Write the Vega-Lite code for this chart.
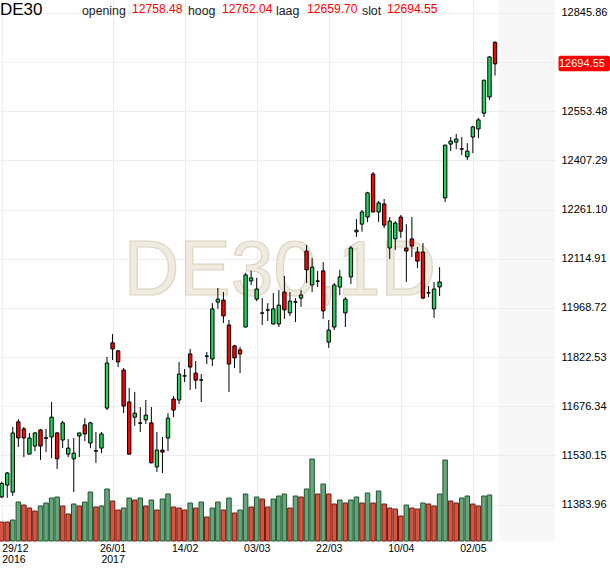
{
  "$schema": "https://vega.github.io/schema/vega-lite/v6.json",
  "width": 555,
  "height": 541,
  "autosize": {"type": "none"},
  "padding": {"left": 0, "top": 0, "right": 55, "bottom": 27},
  "background": "white",
  "config": {
    "view": {"stroke": null},
    "font": "Liberation Sans",
    "axis": {"gridColor": "#eeeeee", "gridWidth": 1, "ticks": false, "domain": false, "labelColor": "#000000", "labelFont": "Liberation Sans"}
  },
  "data": {
    "values": [
      {"d": "2016-12-29", "o": 11407, "h": 11452, "l": 11403, "c": 11447, "v": 19},
      {"d": "2016-12-30", "o": 11442, "h": 11481, "l": 11404, "c": 11478, "v": 19},
      {"d": "2017-01-02", "o": 11421, "h": 11615, "l": 11410, "c": 11597, "v": 21},
      {"d": "2017-01-03", "o": 11630, "h": 11638, "l": 11555, "c": 11582, "v": 39},
      {"d": "2017-01-04", "o": 11609, "h": 11615, "l": 11525, "c": 11582, "v": 36},
      {"d": "2017-01-05", "o": 11534, "h": 11597, "l": 11534, "c": 11582, "v": 33},
      {"d": "2017-01-06", "o": 11558, "h": 11600, "l": 11543, "c": 11597, "v": 30},
      {"d": "2017-01-09", "o": 11606, "h": 11609, "l": 11517, "c": 11558, "v": 35},
      {"d": "2017-01-10", "o": 11581, "h": 11609, "l": 11540, "c": 11583, "v": 38},
      {"d": "2017-01-11", "o": 11585, "h": 11689, "l": 11522, "c": 11644, "v": 43},
      {"d": "2017-01-12", "o": 11597, "h": 11600, "l": 11490, "c": 11520, "v": 44},
      {"d": "2017-01-13", "o": 11576, "h": 11633, "l": 11552, "c": 11627, "v": 35},
      {"d": "2017-01-16", "o": 11534, "h": 11579, "l": 11525, "c": 11552, "v": 27},
      {"d": "2017-01-17", "o": 11520, "h": 11582, "l": 11421, "c": 11537, "v": 37},
      {"d": "2017-01-18", "o": 11588, "h": 11597, "l": 11525, "c": 11597, "v": 35},
      {"d": "2017-01-19", "o": 11621, "h": 11641, "l": 11573, "c": 11594, "v": 39},
      {"d": "2017-01-20", "o": 11567, "h": 11630, "l": 11552, "c": 11627, "v": 49},
      {"d": "2017-01-23", "o": 11544, "h": 11600, "l": 11508, "c": 11543, "v": 34},
      {"d": "2017-01-24", "o": 11552, "h": 11600, "l": 11537, "c": 11594, "v": 35},
      {"d": "2017-01-25", "o": 11671, "h": 11823, "l": 11665, "c": 11805, "v": 52},
      {"d": "2017-01-26", "o": 11865, "h": 11891, "l": 11814, "c": 11847, "v": 40},
      {"d": "2017-01-27", "o": 11841, "h": 11844, "l": 11793, "c": 11808, "v": 31},
      {"d": "2017-01-30", "o": 11784, "h": 11790, "l": 11656, "c": 11677, "v": 33},
      {"d": "2017-01-31", "o": 11689, "h": 11731, "l": 11533, "c": 11534, "v": 43},
      {"d": "2017-02-01", "o": 11644, "h": 11719, "l": 11618, "c": 11656, "v": 41},
      {"d": "2017-02-02", "o": 11627, "h": 11674, "l": 11600, "c": 11626, "v": 43},
      {"d": "2017-02-03", "o": 11636, "h": 11695, "l": 11624, "c": 11650, "v": 35},
      {"d": "2017-02-06", "o": 11627, "h": 11674, "l": 11507, "c": 11508, "v": 41},
      {"d": "2017-02-07", "o": 11496, "h": 11600, "l": 11481, "c": 11546, "v": 31},
      {"d": "2017-02-08", "o": 11546, "h": 11585, "l": 11478, "c": 11540, "v": 42},
      {"d": "2017-02-09", "o": 11582, "h": 11656, "l": 11543, "c": 11641, "v": 47},
      {"d": "2017-02-10", "o": 11698, "h": 11707, "l": 11644, "c": 11665, "v": 34},
      {"d": "2017-02-13", "o": 11695, "h": 11808, "l": 11683, "c": 11772, "v": 33},
      {"d": "2017-02-14", "o": 11767, "h": 11787, "l": 11748, "c": 11766, "v": 31},
      {"d": "2017-02-15", "o": 11832, "h": 11847, "l": 11725, "c": 11793, "v": 38},
      {"d": "2017-02-16", "o": 11775, "h": 11811, "l": 11728, "c": 11754, "v": 33},
      {"d": "2017-02-17", "o": 11754, "h": 11772, "l": 11689, "c": 11755, "v": 39},
      {"d": "2017-02-20", "o": 11825, "h": 11838, "l": 11802, "c": 11826, "v": 24},
      {"d": "2017-02-21", "o": 11817, "h": 11983, "l": 11796, "c": 11966, "v": 33},
      {"d": "2017-02-22", "o": 11986, "h": 12028, "l": 11966, "c": 11995, "v": 39},
      {"d": "2017-02-23", "o": 11992, "h": 12016, "l": 11924, "c": 11945, "v": 31},
      {"d": "2017-02-24", "o": 11918, "h": 11933, "l": 11719, "c": 11802, "v": 43},
      {"d": "2017-02-27", "o": 11856, "h": 11859, "l": 11790, "c": 11820, "v": 28},
      {"d": "2017-02-28", "o": 11844, "h": 11853, "l": 11775, "c": 11832, "v": 31},
      {"d": "2017-03-01", "o": 11912, "h": 12073, "l": 11911, "c": 12067, "v": 47},
      {"d": "2017-03-02", "o": 12049, "h": 12079, "l": 12037, "c": 12058, "v": 34},
      {"d": "2017-03-03", "o": 11995, "h": 12058, "l": 11989, "c": 12025, "v": 44},
      {"d": "2017-03-06", "o": 11954, "h": 11998, "l": 11918, "c": 11953, "v": 42},
      {"d": "2017-03-07", "o": 11962, "h": 11983, "l": 11930, "c": 11963, "v": 34},
      {"d": "2017-03-08", "o": 11921, "h": 12013, "l": 11920, "c": 11966, "v": 42},
      {"d": "2017-03-09", "o": 11921, "h": 12022, "l": 11912, "c": 11977, "v": 45},
      {"d": "2017-03-10", "o": 12016, "h": 12064, "l": 11936, "c": 11963, "v": 47},
      {"d": "2017-03-13", "o": 11954, "h": 12016, "l": 11945, "c": 11989, "v": 33},
      {"d": "2017-03-14", "o": 11986, "h": 11998, "l": 11927, "c": 11987, "v": 45},
      {"d": "2017-03-15", "o": 11998, "h": 12022, "l": 11972, "c": 12007, "v": 44},
      {"d": "2017-03-16", "o": 12138, "h": 12156, "l": 12043, "c": 12082, "v": 52},
      {"d": "2017-03-17", "o": 12037, "h": 12117, "l": 12016, "c": 12090, "v": 82},
      {"d": "2017-03-20", "o": 12049, "h": 12079, "l": 12031, "c": 12048, "v": 47},
      {"d": "2017-03-21", "o": 12079, "h": 12105, "l": 11936, "c": 11960, "v": 57},
      {"d": "2017-03-22", "o": 11867, "h": 11933, "l": 11850, "c": 11903, "v": 47},
      {"d": "2017-03-23", "o": 11912, "h": 12043, "l": 11903, "c": 12037, "v": 37},
      {"d": "2017-03-24", "o": 12031, "h": 12082, "l": 12007, "c": 12061, "v": 41},
      {"d": "2017-03-27", "o": 11954, "h": 12001, "l": 11912, "c": 11995, "v": 38},
      {"d": "2017-03-28", "o": 12061, "h": 12153, "l": 12040, "c": 12147, "v": 41},
      {"d": "2017-03-29", "o": 12195, "h": 12233, "l": 12180, "c": 12200, "v": 44},
      {"d": "2017-03-30", "o": 12218, "h": 12260, "l": 12195, "c": 12254, "v": 38},
      {"d": "2017-03-31", "o": 12239, "h": 12314, "l": 12224, "c": 12311, "v": 48},
      {"d": "2017-04-03", "o": 12367, "h": 12373, "l": 12253, "c": 12254, "v": 38},
      {"d": "2017-04-04", "o": 12254, "h": 12287, "l": 12224, "c": 12281, "v": 50},
      {"d": "2017-04-05", "o": 12278, "h": 12293, "l": 12206, "c": 12215, "v": 37},
      {"d": "2017-04-06", "o": 12147, "h": 12239, "l": 12114, "c": 12227, "v": 33},
      {"d": "2017-04-07", "o": 12174, "h": 12227, "l": 12141, "c": 12221, "v": 32},
      {"d": "2017-04-10", "o": 12239, "h": 12245, "l": 12177, "c": 12197, "v": 25},
      {"d": "2017-04-11", "o": 12147, "h": 12218, "l": 12046, "c": 12138, "v": 36},
      {"d": "2017-04-12", "o": 12174, "h": 12239, "l": 12120, "c": 12153, "v": 33},
      {"d": "2017-04-13", "o": 12135, "h": 12150, "l": 12087, "c": 12108, "v": 32},
      {"d": "2017-04-18", "o": 12135, "h": 12162, "l": 11995, "c": 11998, "v": 38},
      {"d": "2017-04-19", "o": 12013, "h": 12034, "l": 12001, "c": 12014, "v": 37},
      {"d": "2017-04-20", "o": 11966, "h": 12046, "l": 11939, "c": 12025, "v": 35},
      {"d": "2017-04-21", "o": 12031, "h": 12090, "l": 12004, "c": 12046, "v": 47},
      {"d": "2017-04-24", "o": 12296, "h": 12454, "l": 12284, "c": 12453, "v": 81},
      {"d": "2017-04-25", "o": 12456, "h": 12477, "l": 12435, "c": 12465, "v": 40},
      {"d": "2017-04-26", "o": 12462, "h": 12486, "l": 12441, "c": 12471, "v": 38},
      {"d": "2017-04-27", "o": 12442, "h": 12477, "l": 12423, "c": 12441, "v": 43},
      {"d": "2017-04-28", "o": 12418, "h": 12459, "l": 12409, "c": 12435, "v": 45},
      {"d": "2017-05-02", "o": 12477, "h": 12510, "l": 12429, "c": 12507, "v": 37},
      {"d": "2017-05-03", "o": 12501, "h": 12534, "l": 12474, "c": 12528, "v": 35},
      {"d": "2017-05-04", "o": 12548, "h": 12647, "l": 12536, "c": 12646, "v": 45},
      {"d": "2017-05-05", "o": 12596, "h": 12718, "l": 12587, "c": 12715, "v": 46},
      {"d": "2017-05-08", "o": 12758.48, "h": 12762.04, "l": 12659.70, "c": 12694.55, "v": null}
    ]
  },
  "transform": [
    {"window": [{"op": "row_number", "as": "n"}, {"op": "lag", "field": "v", "as": "pv"}], "sort": [{"field": "d"}]}
  ],
  "layer": [
    {
      "layer": [
        {
          "transform": [{"filter": "datum.n == 90"}],
          "mark": {"type": "rect", "fill": "#e4e4e4", "opacity": 0.3},
          "encoding": {
            "x": {
              "datum": 90.77, "type": "quantitative",
              "scale": {"domain": [0.693, 100.82], "nice": false, "zero": false, "padding": 0},
              "axis": {
                "values": [1, 21, 34, 47, 60, 73, 86],
                "labelExpr": "datum.value == 1 ? ['29/12', '2016'] : datum.value == 21 ? ['26/01', '2017'] : datum.value == 34 ? '14/02' : datum.value == 47 ? '03/03' : datum.value == 60 ? '22/03' : datum.value == 73 ? '10/04' : '02/05'",
                "grid": true, "labelFontSize": 10.5, "labelPadding": 2, "labelFlush": 10, "labelOverlap": false, "labelLineHeight": 11, "title": null
              }
            },
            "x2": {"datum": 100.82},
            "y": {
              "datum": 12884.45, "type": "quantitative",
              "scale": {"domain": [11275.7, 12884.45], "nice": false, "zero": false, "padding": 0},
              "axis": {
                "orient": "right",
                "values": [11383.96, 11530.15, 11676.34, 11822.53, 11968.72, 12114.91, 12261.10, 12407.29, 12553.48, 12699.67, 12845.86],
                "labelExpr": "abs(datum.value - 12699.67) < 0.01 ? '' : format(datum.value, '.2f')",
                "grid": true, "labelFontSize": 11, "labelPadding": 6, "labelOverlap": false, "title": null
              }
            },
            "y2": {"datum": 11275.7}
          }
        },
        {
          "transform": [{"filter": "datum.n == 90"}],
          "mark": {"type": "text", "text": "DE30,1D", "font": "Liberation Sans", "fontSize": 77, "align": "center", "baseline": "alphabetic", "fill": "#efebdf", "stroke": "#dcd5c2", "strokeWidth": 1.2},
          "encoding": {
            "x": {"datum": 51.2, "type": "quantitative", "scale": {"domain": [0.693, 100.82], "nice": false, "zero": false, "padding": 0}},
            "y": {"datum": 12007.2, "type": "quantitative", "scale": {"domain": [11275.7, 12884.45], "nice": false, "zero": false, "padding": 0}}
          }
        }
      ]
    },
    {
      "transform": [{"filter": "datum.v != null"}],
      "mark": {"type": "bar", "width": 4.5, "strokeWidth": 1},
      "encoding": {
        "x": {"field": "n", "type": "quantitative", "scale": {"domain": [0.693, 100.82], "nice": false, "zero": false, "padding": 0}},
        "y": {"field": "v", "type": "quantitative", "scale": {"domain": [0, 541], "nice": false, "padding": 0}, "axis": null},
        "fill": {"condition": {"test": "datum.pv != null && datum.v > datum.pv", "value": "#67a57b"}, "value": "#d8543f"},
        "stroke": {"condition": {"test": "datum.pv != null && datum.v > datum.pv", "value": "#1f5530"}, "value": "#6b1d14"}
      }
    },
    {
      "layer": [
        {
          "mark": {"type": "rule", "color": "#000000", "strokeWidth": 1},
          "encoding": {
            "x": {"field": "n", "type": "quantitative", "scale": {"domain": [0.693, 100.82], "nice": false, "zero": false, "padding": 0}},
            "y": {"field": "h", "type": "quantitative", "scale": {"domain": [11275.7, 12884.45], "nice": false, "zero": false, "padding": 0}, "axis": null},
            "y2": {"field": "l"}
          }
        },
        {
          "mark": {"type": "bar", "width": 3.4, "stroke": "#000000", "strokeWidth": 1},
          "encoding": {
            "x": {"field": "n", "type": "quantitative", "scale": {"domain": [0.693, 100.82], "nice": false, "zero": false, "padding": 0}},
            "y": {"field": "o", "type": "quantitative", "scale": {"domain": [11275.7, 12884.45], "nice": false, "zero": false, "padding": 0}, "axis": null},
            "y2": {"field": "c"},
            "fill": {"condition": {"test": "datum.c >= datum.o", "value": "#22d35a"}, "value": "#ff0000"}
          }
        },
        {
          "transform": [{"filter": "datum.n == 90"}],
          "mark": {"type": "text", "text": "DE30", "fontSize": 17, "align": "left", "baseline": "alphabetic", "color": "#000000"},
          "encoding": {
            "x": {"datum": 0.693, "type": "quantitative", "scale": {"domain": [0.693, 100.82], "nice": false, "zero": false, "padding": 0}},
            "y": {"datum": 12839.8, "type": "quantitative", "scale": {"domain": [11275.7, 12884.45], "nice": false, "zero": false, "padding": 0}, "axis": null}
          }
        },
        {
          "transform": [{"filter": "datum.n == 90"}],
          "mark": {"type": "text", "text": "opening", "fontSize": 12.3, "align": "left", "baseline": "alphabetic", "color": "#222222"},
          "encoding": {
            "x": {"datum": 15.49, "type": "quantitative", "scale": {"domain": [0.693, 100.82], "nice": false, "zero": false, "padding": 0}},
            "y": {"datum": 12841.3, "type": "quantitative", "scale": {"domain": [11275.7, 12884.45], "nice": false, "zero": false, "padding": 0}, "axis": null}
          }
        },
        {
          "transform": [{"filter": "datum.n == 90"}],
          "mark": {"type": "text", "fontSize": 12.1, "align": "left", "baseline": "alphabetic", "color": "#ff0000"},
          "encoding": {
            "text": {"field": "o", "format": ".2f"},
            "x": {"datum": 24.51, "type": "quantitative", "scale": {"domain": [0.693, 100.82], "nice": false, "zero": false, "padding": 0}},
            "y": {"datum": 12845.8, "type": "quantitative", "scale": {"domain": [11275.7, 12884.45], "nice": false, "zero": false, "padding": 0}, "axis": null}
          }
        },
        {
          "transform": [{"filter": "datum.n == 90"}],
          "mark": {"type": "text", "text": "hoog", "fontSize": 12.3, "align": "left", "baseline": "alphabetic", "color": "#222222"},
          "encoding": {
            "x": {"datum": 34.61, "type": "quantitative", "scale": {"domain": [0.693, 100.82], "nice": false, "zero": false, "padding": 0}},
            "y": {"datum": 12841.3, "type": "quantitative", "scale": {"domain": [11275.7, 12884.45], "nice": false, "zero": false, "padding": 0}, "axis": null}
          }
        },
        {
          "transform": [{"filter": "datum.n == 90"}],
          "mark": {"type": "text", "fontSize": 12.1, "align": "left", "baseline": "alphabetic", "color": "#ff0000"},
          "encoding": {
            "text": {"field": "h", "format": ".2f"},
            "x": {"datum": 40.74, "type": "quantitative", "scale": {"domain": [0.693, 100.82], "nice": false, "zero": false, "padding": 0}},
            "y": {"datum": 12845.8, "type": "quantitative", "scale": {"domain": [11275.7, 12884.45], "nice": false, "zero": false, "padding": 0}, "axis": null}
          }
        },
        {
          "transform": [{"filter": "datum.n == 90"}],
          "mark": {"type": "text", "text": "laag", "fontSize": 12.3, "align": "left", "baseline": "alphabetic", "color": "#222222"},
          "encoding": {
            "x": {"datum": 50.49, "type": "quantitative", "scale": {"domain": [0.693, 100.82], "nice": false, "zero": false, "padding": 0}},
            "y": {"datum": 12841.3, "type": "quantitative", "scale": {"domain": [11275.7, 12884.45], "nice": false, "zero": false, "padding": 0}, "axis": null}
          }
        },
        {
          "transform": [{"filter": "datum.n == 90"}],
          "mark": {"type": "text", "fontSize": 12.1, "align": "left", "baseline": "alphabetic", "color": "#ff0000"},
          "encoding": {
            "text": {"field": "l", "format": ".2f"},
            "x": {"datum": 56.08, "type": "quantitative", "scale": {"domain": [0.693, 100.82], "nice": false, "zero": false, "padding": 0}},
            "y": {"datum": 12845.8, "type": "quantitative", "scale": {"domain": [11275.7, 12884.45], "nice": false, "zero": false, "padding": 0}, "axis": null}
          }
        },
        {
          "transform": [{"filter": "datum.n == 90"}],
          "mark": {"type": "text", "text": "slot", "fontSize": 12.3, "align": "left", "baseline": "alphabetic", "color": "#222222"},
          "encoding": {
            "x": {"datum": 66.0, "type": "quantitative", "scale": {"domain": [0.693, 100.82], "nice": false, "zero": false, "padding": 0}},
            "y": {"datum": 12841.3, "type": "quantitative", "scale": {"domain": [11275.7, 12884.45], "nice": false, "zero": false, "padding": 0}, "axis": null}
          }
        },
        {
          "transform": [{"filter": "datum.n == 90"}],
          "mark": {"type": "text", "fontSize": 12.1, "align": "left", "baseline": "alphabetic", "color": "#ff0000"},
          "encoding": {
            "text": {"field": "c", "format": ".2f"},
            "x": {"datum": 70.51, "type": "quantitative", "scale": {"domain": [0.693, 100.82], "nice": false, "zero": false, "padding": 0}},
            "y": {"datum": 12845.8, "type": "quantitative", "scale": {"domain": [11275.7, 12884.45], "nice": false, "zero": false, "padding": 0}, "axis": null}
          }
        },
        {
          "transform": [{"filter": "datum.n == 90"}],
          "mark": {"type": "rect", "fill": "#ff0000", "cornerRadius": 2},
          "encoding": {
            "x": {"datum": 101.45, "type": "quantitative", "scale": {"domain": [0.693, 100.82], "nice": false, "zero": false, "padding": 0}},
            "x2": {"datum": 110.74},
            "y": {"datum": 12718.8, "type": "quantitative", "scale": {"domain": [11275.7, 12884.45], "nice": false, "zero": false, "padding": 0}, "axis": null},
            "y2": {"datum": 12672.7}
          }
        },
        {
          "transform": [{"filter": "datum.n == 90"}],
          "mark": {"type": "text", "fontSize": 11, "align": "left", "baseline": "middle", "color": "#ffffff"},
          "encoding": {
            "text": {"field": "c", "format": ".2f"},
            "x": {"datum": 101.54, "type": "quantitative", "scale": {"domain": [0.693, 100.82], "nice": false, "zero": false, "padding": 0}},
            "y": {"field": "c", "type": "quantitative", "scale": {"domain": [11275.7, 12884.45], "nice": false, "zero": false, "padding": 0}, "axis": null}
          }
        }
      ]
    }
  ],
  "resolve": {"scale": {"y": "independent"}}
}
